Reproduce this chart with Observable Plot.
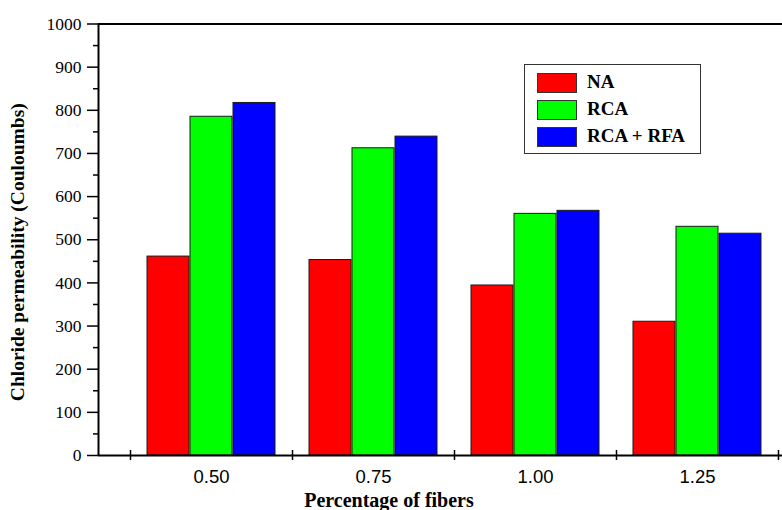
<!DOCTYPE html>
<html>
<head>
<meta charset="utf-8">
<script src="https://cdn.jsdelivr.net/npm/d3@7"></script>
<script src="https://cdn.jsdelivr.net/npm/@observablehq/plot@0.6"></script>
<style>
  html, body { margin: 0; padding: 0; background: #fff; }
  #wrap { position: relative; width: 782px; height: 510px; color: #000; overflow: hidden; }
  #legend { position: absolute; left: 524px; top: 64px; width: 175px; height: 88px;
            border: 1.5px solid #333; background: #fff; box-sizing: content-box; }
  .row { position: absolute; left: 12px; height: 19px; }
  .sw { position: absolute; left: 0; top: 0; width: 38px; height: 18px; border: 1px solid #333; }
  .lab { position: absolute; left: 50px; top: -2px; font: bold 19px "Liberation Serif", serif; white-space: nowrap; line-height: 22px; }
</style>
</head>
<body>
<div id="wrap"></div>
<script>
// ---- data ----
const fibers = [0.50, 0.75, 1.00, 1.25];
const seriesNames = ["NA", "RCA", "RCA + RFA"];
const valuesNA = [461, 453, 394, 310];
const valuesRCA = [785, 712, 560, 530];
const valuesRCA_RFA = [817, 739, 567, 514];
const seriesColors = ["#ff0000", "#00ff00", "#0000ff"];
const yTicks = [0, 100, 200, 300, 400, 500, 600, 700, 800, 900, 1000];
const yMinorTicks = [50, 150, 250, 350, 450, 550, 650, 750, 850, 950];
const xBoundaries = [0.375, 0.625, 0.875, 1.125, 1.375];
const xTitle = "Percentage of fibers";
const yTitle = "Chloride permeability (Couloumbs)";

// ---- layout ----
const xDomain = [0.3256, 1.3812];
const pxPerUnit = 648;
const step = 43 / pxPerUnit;
const barW = 42 / pxPerUnit;

const allValues = [valuesNA, valuesRCA, valuesRCA_RFA];
const rows = fibers.flatMap((f, i) => seriesNames.map((s, k) => ({fiber: f, series: s, k, value: allValues[k][i]})));

const chart = Plot.plot({
  width: 782,
  height: 510,
  marginLeft: 98,
  marginRight: 0,
  marginTop: 23.5,
  marginBottom: 55,
  style: {background: "transparent", color: "#000", overflow: "visible"},
  x: {type: "linear", domain: xDomain, axis: null},
  y: {domain: [0, 1000], axis: null},
  color: {domain: seriesNames, range: seriesColors},
  marks: [
    Plot.rectY(rows, {
      x1: d => d.fiber + (d.k - 1) * step - barW / 2,
      x2: d => d.fiber + (d.k - 1) * step + barW / 2,
      y1: 0, y2: "value",
      fill: "series", stroke: "#1a1a1a", strokeWidth: 1
    }),
    Plot.ruleY([0], {stroke: "#000", strokeWidth: 2}),
    Plot.ruleY([1000], {stroke: "#000", strokeWidth: 2}),
    Plot.ruleX([xDomain[0]], {stroke: "#000", strokeWidth: 2}),
    Plot.ruleX(xBoundaries, {y1: -11.6, y2: 11.6, stroke: "#000", strokeWidth: 1.5}),
    Plot.axisY(yTicks, {tickSize: 11, tickPadding: 6, fontSize: 17.5, fontFamily: "Liberation Serif", tickFormat: d3.format("d"), label: null, strokeWidth: 1.5}),
    Plot.axisY(yMinorTicks, {tickSize: 5, text: null, label: null, strokeWidth: 1.5}),
    Plot.axisX(fibers, {tickSize: 0, tickPadding: 14, tickFormat: d3.format(".2f"), fontSize: 18.5, fontFamily: "Liberation Sans", label: null}),
    Plot.text([xTitle], {text: d => d, frameAnchor: "bottom", textAnchor: "middle", lineAnchor: "bottom", dx: -51.5, dy: 51,
      fontFamily: "Liberation Serif", fontWeight: "bold", fontSize: 20}),
    Plot.text([yTitle], {text: d => d, frameAnchor: "left", textAnchor: "middle", lineAnchor: "bottom", rotate: -90, dx: -75, dy: 12.5,
      fontFamily: "Liberation Serif", fontWeight: "bold", fontSize: 19.5})
  ]
});

const wrap = document.getElementById("wrap");
wrap.appendChild(chart);

// legend overlay
const legend = document.createElement("div");
legend.id = "legend";
const rowTops = [8, 34.5, 61.5];
seriesNames.forEach((s, i) => {
  const r = document.createElement("div");
  r.className = "row";
  r.style.top = rowTops[i] + "px";
  const sw = document.createElement("div");
  sw.className = "sw";
  sw.style.background = seriesColors[i];
  const lab = document.createElement("div");
  lab.className = "lab";
  lab.textContent = s;
  r.appendChild(sw);
  r.appendChild(lab);
  legend.appendChild(r);
});
wrap.appendChild(legend);
</script>
</body>
</html>
